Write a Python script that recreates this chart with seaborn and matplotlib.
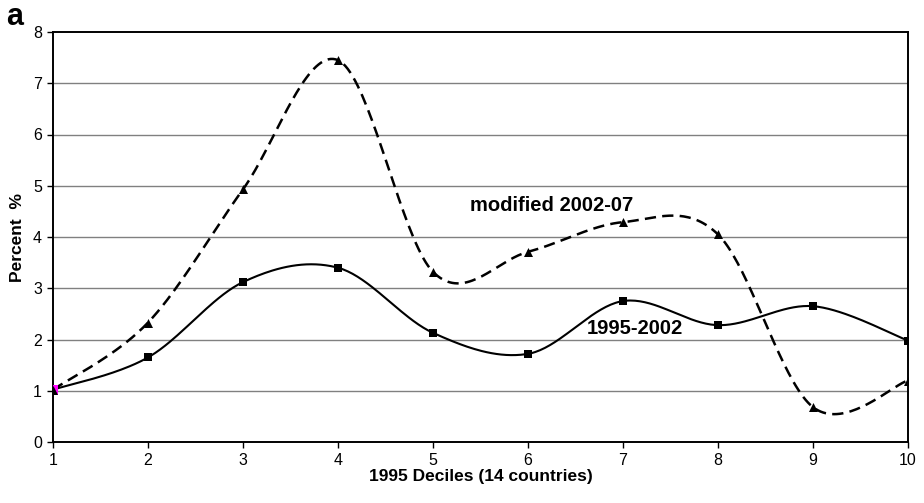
import numpy as np
import pandas as pd
import matplotlib
matplotlib.use("Agg")
import matplotlib.pyplot as plt
import seaborn as sns

# ---- data ----
deciles = [1, 2, 3, 4, 5, 6, 7, 8, 9, 10]
s_1995_2002 = [1.02, 1.65, 3.12, 3.40, 2.13, 1.72, 2.75, 2.28, 2.65, 1.98]
s_mod_2002_07 = [1.02, 2.33, 4.93, 7.45, 3.32, 3.71, 4.29, 4.05, 0.68, 1.20]
y_ticks = [0, 1, 2, 3, 4, 5, 6, 7, 8]
x_ticks = deciles
label_1995 = "1995-2002"
label_mod = "modified 2002-07"


def smooth(x, y, n=40):
    """Excel-like smoothed line: cubic Bezier with Catmull-Rom control points."""
    P = np.column_stack([x, y]).astype(float)
    E = np.vstack([P[0], P, P[-1]])
    t = np.linspace(0, 1, n)[:, None]
    out = []
    for i in range(len(P) - 1):
        p0, p1, p2, p3 = E[i], E[i + 1], E[i + 2], E[i + 3]
        c1 = p1 + (p2 - p0) / 6.0
        c2 = p2 - (p3 - p1) / 6.0
        seg = (1 - t) ** 3 * p1 + 3 * (1 - t) ** 2 * t * c1 + 3 * (1 - t) * t ** 2 * c2 + t ** 3 * p2
        out.append(seg if i == 0 else seg[1:])
    return np.vstack(out)


sns.set_style("white")
plt.rcParams["font.family"] = ["Liberation Sans", "DejaVu Sans"]
plt.rcParams["text.color"] = "black"
plt.rcParams["axes.labelcolor"] = "black"
plt.rcParams["xtick.color"] = "black"
plt.rcParams["ytick.color"] = "black"

fig = plt.figure(figsize=(9.24, 5.03), dpi=100)
ax = fig.add_axes([53 / 924, 61 / 503, 855 / 924, 410 / 503])

c1 = smooth(deciles, s_1995_2002)
c2 = smooth(deciles, s_mod_2002_07)
df1 = pd.DataFrame({"x": c1[:, 0], "y": c1[:, 1]})
df2 = pd.DataFrame({"x": c2[:, 0], "y": c2[:, 1]})

# grid lines
for yv in y_ticks[1:-1]:
    ax.axhline(yv, color="#808080", lw=1.0, zorder=1)

sns.lineplot(data=df2, x="x", y="y", sort=False, estimator=None, ax=ax,
             color="black", lw=1.8, dashes=False, zorder=3)
ax.lines[-1].set_dashes([4.5, 2.5])
sns.lineplot(data=df1, x="x", y="y", sort=False, estimator=None, ax=ax,
             color="black", lw=1.5, zorder=3)

sns.scatterplot(x=deciles, y=s_1995_2002, marker="s", color="black", s=40,
                edgecolor="black", linewidth=0, ax=ax, zorder=4)
sns.scatterplot(x=deciles[:1], y=s_1995_2002[:1], marker="s", color="#ff00ff", s=60,
                edgecolor="#ff00ff", linewidth=0, ax=ax, zorder=5)
sns.scatterplot(x=deciles, y=s_mod_2002_07, marker="^", color="black", s=42,
                edgecolor="black", linewidth=0, ax=ax, zorder=6)

ax.set_xlim(deciles[0], deciles[-1])
ax.set_ylim(y_ticks[0], y_ticks[-1])
ax.set_xticks(x_ticks)
ax.set_yticks(y_ticks)
ax.tick_params(axis="both", direction="out", length=4, width=1, colors="black",
               labelsize=11.5, pad=4, left=True, bottom=True)
for sp in ax.spines.values():
    sp.set_visible(True)
    sp.set_color("black")
    sp.set_linewidth(1.4)

ax.set_xlabel("1995 Deciles (14 countries)", fontsize=12.5, fontweight="bold", labelpad=1,
              color="black")
ax.set_ylabel("Percent  %", fontsize=12.5, fontweight="bold", labelpad=6, color="black")

ax.text(5.39, 4.62, label_mod, fontsize=14.5, fontweight="bold", ha="left", va="center",
        color="black", zorder=7)
ax.text(6.62, 2.22, label_1995, fontsize=14.5, fontweight="bold", ha="left", va="center",
        color="black", zorder=7)

fig.text(6 / 924, 1 - 25 / 503, "a", fontsize=22, fontweight="bold", va="baseline", ha="left",
         color="black")

fig.savefig("out.png", dpi=100)
